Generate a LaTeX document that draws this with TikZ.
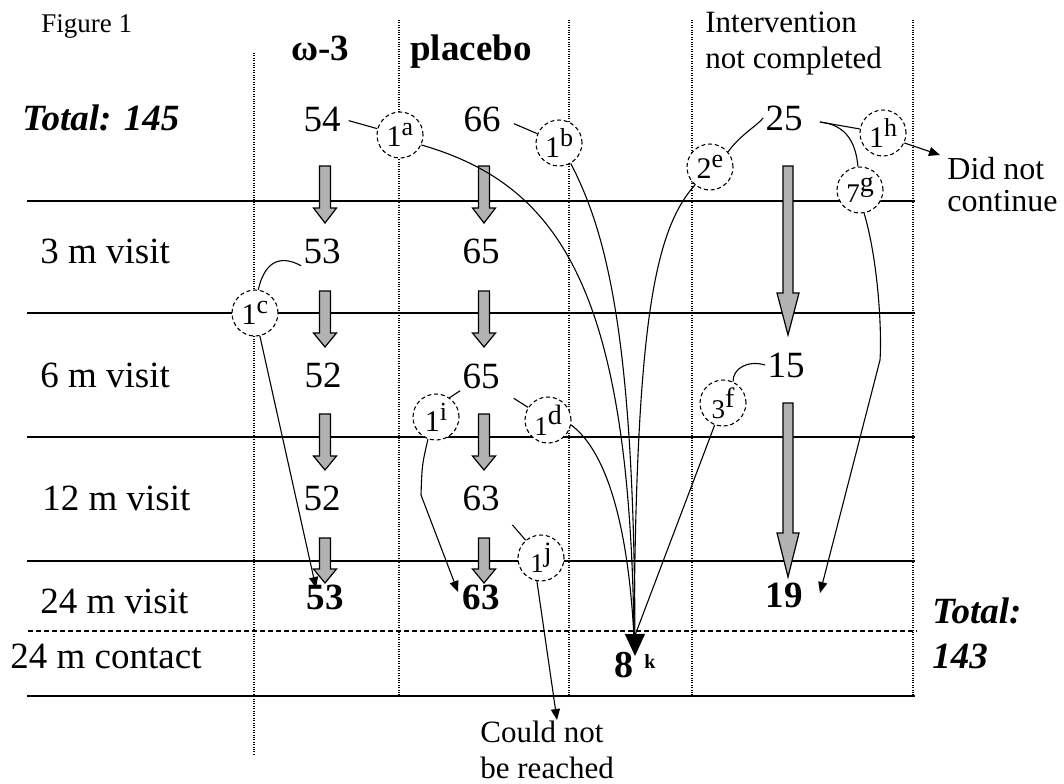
\documentclass[tikz,border=0pt]{standalone}
\usepackage{fontspec}
\setmainfont{Liberation Serif}
\usetikzlibrary{arrows.meta}
\newcommand\ca[2]{{\fontsize{15}{15}\selectfont #1}\raisebox{5.5pt}{\fontsize{13}{13}\selectfont #2}}
\newcommand\cb[2]{\raisebox{-3pt}{\fontsize{13.5}{13}\selectfont #1}\raisebox{2.5pt}{\fontsize{14}{14}\selectfont #2}}
\newcommand\blockarrow[6]{%
  \filldraw[barrow] (#1-#5,#2) -- (#1+#5,#2) -- (#1+#5,#3) -- (#1+#6,#3) -- (#1,#4) -- (#1-#6,#3) -- (#1-#5,#3) -- cycle;}
\begin{document}
\begin{tikzpicture}[x=0.5pt,y=-0.5pt,
  every node/.style={inner sep=1pt},
  hline/.style={line width=0.8pt},
  dline/.style={line width=0.8pt, dash pattern=on 2.5pt off 1.5pt},
  vdot/.style={line width=0.6pt, dash pattern=on 0.5pt off 0.7pt},
  barrow/.style={fill={rgb,255:red,178;green,178;blue,178}, draw=black, line width=0.6pt},
  conn/.style={line width=0.55pt},
  arr/.style={-{Triangle[width=4.5pt,length=5.5pt]}},
  lab/.style={font=\fontsize{18.5}{22}\selectfont, anchor=base west},
  num/.style={font=\fontsize{18.5}{22}\selectfont, anchor=base},
  bnum/.style={font=\fontsize{18.5}{22}\selectfont\bfseries, anchor=base},
  bit/.style={font=\fontsize{18.5}{22}\selectfont\bfseries\itshape, anchor=base west},
  note/.style={font=\fontsize{15.5}{18}\selectfont, anchor=base west},
  circ/.style={circle, draw, fill=white, line width=0.55pt, dash pattern=on 2pt off 1.4pt, minimum size=23pt, inner sep=0pt}
]
\useasboundingbox (0,0) rectangle (1064,783);
\fill[white] (0,0) rectangle (1064,783);

% grid
\foreach \yy in {201,313,437,561,696} \draw[hline] (27,\yy) -- (915,\yy);
\draw[dline] (28,631) -- (917,631);
\draw[vdot] (254,53) -- (254,755);
\foreach \xx in {399,569,692,913} \draw[vdot] (\xx,20) -- (\xx,695);

% block arrows
\foreach \xx in {325,484} {
  \blockarrow{\xx}{166}{208}{223}{5.5}{11.5}
  \blockarrow{\xx}{291}{333}{347}{5.5}{11.5}
  \blockarrow{\xx}{414}{456}{470}{5.5}{11.5}
  \blockarrow{\xx}{538}{569}{583}{5.5}{11.5}
}
\blockarrow{788}{166}{293}{335}{5}{11}
\blockarrow{788}{403}{533}{577}{5}{11}

% texts
\node[anchor=base west, font=\fontsize{13.5}{16}\selectfont] (fig) at (39,32) {Figure 1};
\node[bnum] (hw) at (320,60) {ω-3};
\node[bnum] (hp) at (471,60) {placebo};
\node[note] (hi1) at (703,32) {Intervention};
\node[note] (hi2) at (703,68) {not completed};
\node[bit] (t145) at (20,130) {Total: 145};
\node[num] (n54) at (322,131) {54};
\node[num] (n66) at (482,131) {66};
\node[num] (n25) at (784,130) {25};
\node[lab] (r3) at (38,263) {3 m visit};
\node[lab] (r6) at (38,387) {6 m visit};
\node[lab] (r12) at (40,510) {12 m visit};
\node[lab] (r24) at (38,613) {24 m visit};
\node[lab] (r24c) at (8,668) {24 m contact};
\node[num] (n53a) at (322,263) {53};
\node[num] (n65a) at (481,263) {65};
\node[num] (n52a) at (323,387) {52};
\node[num] (n65b) at (481,388) {65};
\node[num] (n15) at (786,377) {15};
\node[num] (n52b) at (322,510) {52};
\node[num] (n63b) at (481,510) {63};
\node[bnum] (n53b) at (325,609) {53};
\node[bnum] (n63c) at (481,609) {63};
\node[bnum] (n19) at (784,607) {19};
\node[anchor=base west, font=\fontsize{16}{19}\selectfont] (dn1) at (945,179) {Did not};
\node[anchor=base west, font=\fontsize{16}{19}\selectfont] (dn2) at (945,211) {continue};
\node[bit] (t143a) at (930,623) {Total:};
\node[bit] (t143b) at (930,668) {143};
\node[note] (cn1) at (478,742) {Could not};
\node[note] (cn2) at (478,778) {be reached};
\node[anchor=base, font=\fontsize{19}{22}\selectfont\bfseries] (n8) at (624,677) {8};
\node[anchor=base west, font=\fontsize{10}{12}\selectfont\bfseries] (nk) at (642,668) {k};

% circles
\node[circ] (c1a) at (400,135) {\ca{1}{a}};
\node[circ] (c1b) at (559,143) {\ca{1}{b}};
\node[circ] (c2e) at (710,167) {\ca{2}{e}};
\node[circ] (c1h) at (883,133) {\ca{1}{h}};
\node[circ] (c7g) at (860,190) {\cb{7}{g}};
\node[circ] (c1c) at (255,313) {\ca{1}{c}};
\node[circ] (c1i) at (436,417) {\ca{1}{i}};
\node[circ] (c1d) at (548,420) {\cb{1}{d}};
\node[circ] (c3f) at (723,403) {\cb{3}{f}};
\node[circ] (c1j) at (541,558) {\cb{1}{j}};

% coordinates
\coordinate (k) at (634,638);
\coordinate (ktip) at (635,656);
\coordinate (j25) at (820,122);
\coordinate (dnc) at (940,155);
\coordinate (t19) at (820,593);
\coordinate (t53) at (316,588);
\coordinate (t63) at (458,592);
\coordinate (tcn) at (557,720);

% connectors
\draw[conn, shorten <=3pt] (n54.east) -- (c1a);
\draw[conn, shorten <=6pt] (n66.east) -- (c1b);
\draw[conn] (c1a.-25) .. controls (560,185) and (630,290) .. (k);
\draw[conn, -{Triangle[width=10pt,length=11pt]}] (c1b.-60) .. controls (605,230) and (634,330) .. (ktip);
\draw[conn] (c2e.-130) .. controls (655,230) and (636,320) .. (k);
\draw[conn] (c1d.-12) .. controls (605,450) and (628,520) .. (k);
\draw[conn] (c3f) -- (k);
\draw[conn] (n15.west) .. controls (748,360) and (733,368) .. (c3f.65);
\draw[conn] (n25.west) .. controls (758,125) and (740,135) .. (c2e.40);
\draw[conn] (j25) -- (c1h);
\draw[conn] (j25) .. controls (848,125) and (856,145) .. (c7g);
\draw[conn, arr] (c1h.-25) -- (dnc);
\draw[conn, arr] (c7g.-80) .. controls (878,260) and (882,330) .. (880,360) -- (t19);
\draw[conn] (n53a.south west) .. controls (285,257) and (266,256) .. (c1c.82);
\draw[conn, arr] (c1c.-78) -- (t53);
\draw[conn] (n65b.south west) -- (c1i.55);
\draw[conn, shorten <=7pt] (n65b.south east) -- (c1d);
\draw[conn, arr] (c1i.-110) .. controls (422,465) .. (421,495) -- (t63);
\draw[conn, shorten <=8pt] (n63b.south east) -- (c1j);
\draw[conn, arr] (c1j.-100) .. controls (544,630) .. (tcn);
\end{tikzpicture}
\end{document}
